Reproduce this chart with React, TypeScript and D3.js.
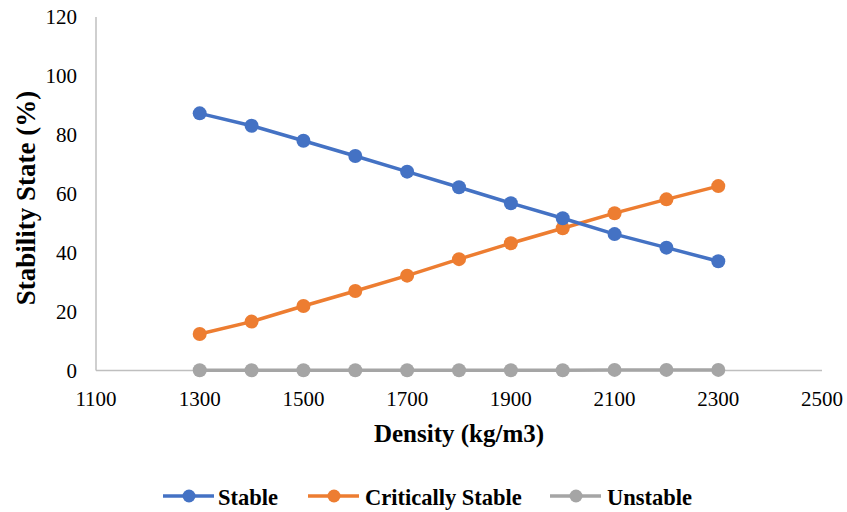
import React from "react";
import * as d3 from "d3";

// Density values (kg/m3)
const densities = [1300, 1400, 1500, 1600, 1700, 1800, 1900, 2000, 2100, 2200, 2300];
// Stability state shares (%)
const stable = [87.3, 83.1, 78.0, 72.8, 67.5, 62.2, 56.8, 51.7, 46.3, 41.7, 37.1];
const criticallyStable = [12.4, 16.6, 21.9, 27.0, 32.2, 37.8, 43.2, 48.3, 53.4, 58.1, 62.6];
const unstable = [0.1, 0.1, 0.1, 0.1, 0.1, 0.1, 0.1, 0.1, 0.2, 0.2, 0.2];

const xTicks = [1100, 1300, 1500, 1700, 1900, 2100, 2300, 2500];
const yTicks = [0, 20, 40, 60, 80, 100, 120];

const seriesNames = ["Stable", "Critically Stable", "Unstable"];
const seriesColors = ["#4472C4", "#ED7D31", "#A5A5A5"];

const W = 847;
const H = 512;
const FONT = "Liberation Serif";

export default function App() {
  const x = d3.scaleLinear().domain([1100, 2500]).range([96, 822]);
  const y = d3.scaleLinear().domain([0, 120]).range([370.5, 17]);

  const series = [stable, criticallyStable, unstable].map((vals, i) => ({
    name: seriesNames[i],
    color: seriesColors[i],
    points: densities.map((d, j) => [d, vals[j]] as [number, number]),
  }));

  const line = d3
    .line<[number, number]>()
    .x((d) => x(d[0]))
    .y((d) => y(d[1]));

  // Legend layout: line + marker, then bold label
  const legendItems = [
    { lineX: 163, textX: 218 },
    { lineX: 308, textX: 365 },
    { lineX: 550, textX: 607 },
  ];
  const legendY = 496;

  // Draw series back to front so the blue line sits above the others
  const drawOrder = [2, 1, 0];

  return (
    <svg
      width={W}
      height={H}
      style={{ position: "absolute", left: 0, top: 0, background: "#fff" }}
    >
      {/* axes */}
      <line x1={x(1100)} x2={x(1100)} y1={y(120)} y2={y(0)} stroke="#BFBFBF" strokeWidth={1.5} />
      <line x1={x(1100)} x2={x(2500)} y1={y(0)} y2={y(0)} stroke="#BFBFBF" strokeWidth={1.5} />

      {/* y tick labels */}
      {yTicks.map((t) => (
        <text
          key={`y${t}`}
          x={77}
          y={y(t)}
          textAnchor="end"
          dominantBaseline="central"
          fontFamily={FONT}
          fontSize={21}
          fill="#000"
        >
          {t}
        </text>
      ))}

      {/* x tick labels */}
      {xTicks.map((t) => (
        <text
          key={`x${t}`}
          x={x(t)}
          y={406}
          textAnchor="middle"
          fontFamily={FONT}
          fontSize={21}
          fill="#000"
        >
          {t}
        </text>
      ))}

      {/* axis titles */}
      <text
        x={x(1800)}
        y={441.5}
        textAnchor="middle"
        fontFamily={FONT}
        fontSize={25}
        fontWeight="bold"
        fill="#000"
      >
        Density (kg/m3)
      </text>
      <text
        transform={`translate(35, 198) rotate(-90)`}
        textAnchor="middle"
        fontFamily={FONT}
        fontSize={27}
        fontWeight="bold"
        fill="#000"
      >
        Stability State (%)
      </text>

      {/* series */}
      {drawOrder.map((i) => {
        const s = series[i];
        return (
          <g key={s.name}>
            <path d={line(s.points) || ""} fill="none" stroke={s.color} strokeWidth={3.5} />
            {s.points.map((p, j) => (
              <circle key={j} cx={x(p[0])} cy={y(p[1])} r={7} fill={s.color} />
            ))}
          </g>
        );
      })}

      {/* legend */}
      {series.map((s, i) => {
        const it = legendItems[i];
        return (
          <g key={`lg${s.name}`}>
            <line
              x1={it.lineX}
              x2={it.lineX + 51}
              y1={legendY}
              y2={legendY}
              stroke={s.color}
              strokeWidth={3.5}
            />
            <circle cx={it.lineX + 26} cy={legendY} r={6.5} fill={s.color} />
            <text
              x={it.textX}
              y={504.5}
              fontFamily={FONT}
              fontSize={22.5}
              fontWeight="bold"
              fill="#000"
            >
              {s.name}
            </text>
          </g>
        );
      })}
    </svg>
  );
}
